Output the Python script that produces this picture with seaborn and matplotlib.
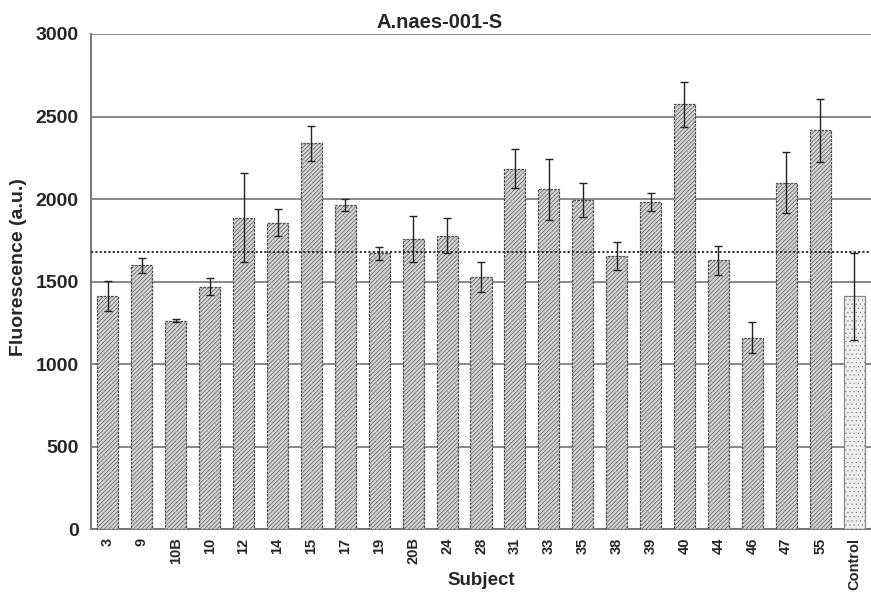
import numpy as np
import pandas as pd
import seaborn as sns
import matplotlib.pyplot as plt
from matplotlib.ticker import FixedLocator

subjects = ['3', '9', '10B', '10', '12', '14', '15', '17', '19', '20B', '24', '28',
            '31', '33', '35', '38', '39', '40', '44', '46', '47', '55', 'Control']
fluorescence = [1414, 1598, 1263, 1469, 1888, 1858, 2337, 1964, 1672, 1758, 1778, 1530,
                2185, 2058, 1997, 1655, 1982, 2575, 1630, 1160, 2098, 2418, 1412]
errors = [90, 43, 8, 52, 272, 81, 106, 39, 40, 137, 106, 91,
          116, 184, 103, 87, 53, 137, 88, 94, 185, 191, 263]
threshold = 1680

df = pd.DataFrame({'Subject': subjects, 'Fluorescence': fluorescence, 'err': errors})

sns.set_style('white')
plt.rcParams['font.family'] = ['Liberation Sans', 'DejaVu Sans']
plt.rcParams['hatch.linewidth'] = 0.4

fig = plt.figure(figsize=(8.71, 5.96), dpi=100)
ax = fig.add_axes([0.1045, 0.112, 0.8955, 0.831])

sns.barplot(data=df, x='Subject', y='Fluorescence', order=subjects, errorbar=None,
            color='#d2d2d2', width=0.62, edgecolor='#4a4a4a', linewidth=0.9,
            ax=ax, zorder=3)

# pattern fill like the original (control drawn lighter with dots)
for i, bar in enumerate(ax.patches):
    if subjects[i] == 'Control':
        bar.set_facecolor('#eeeeee')
        bar.set_hatch('....')
        bar.set_edgecolor('#888888')
    else:
        bar.set_hatch('////////')
        bar.set_linestyle((0, (2, 1)))

ax.errorbar(np.arange(len(subjects)), df['Fluorescence'], yerr=df['err'],
            fmt='none', ecolor='#222222', elinewidth=1.0, capsize=3, capthick=1.0,
            zorder=4)

ax.axhline(threshold, color='#222222', linestyle=(0, (1.2, 1.2)), linewidth=1.3, zorder=5)

ax.set_ylim(0, 3000)
ax.set_xlim(-0.5, len(subjects) - 0.5)
ax.set_yticks(np.arange(0, 3001, 500))
ax.yaxis.grid(True, color='#888888', linewidth=1.4, zorder=0)
ax.set_axisbelow(True)

ax.xaxis.set_minor_locator(FixedLocator(np.arange(-0.5, len(subjects), 1.0)))
ax.tick_params(axis='x', which='major', length=0, pad=6)
ax.tick_params(axis='x', which='minor', length=5, width=1, color='#555555', direction='out')
ax.tick_params(axis='y', length=5, width=1, color='#555555', direction='out', pad=4)

for lab in ax.get_xticklabels():
    lab.set_rotation(90)
    lab.set_fontweight('bold')
    lab.set_fontsize(10.5)
for lab in ax.get_yticklabels():
    lab.set_fontweight('bold')
    lab.set_fontsize(14)

for s in ['top', 'right']:
    ax.spines[s].set_visible(False)
for s in ['left', 'bottom']:
    ax.spines[s].set_color('#777777')
    ax.spines[s].set_linewidth(1.4)

ax.set_title('A.naes-001-S', fontweight='bold', fontsize=14.5, pad=4, x=0.447)
ax.set_xlabel('Subject', fontweight='bold', fontsize=13.5)
ax.xaxis.set_label_coords(0.5, -0.086)
ax.set_ylabel('Fluorescence (a.u.)', fontweight='bold', fontsize=14)
ax.yaxis.set_label_coords(-0.082, 0.53)

fig.savefig('out.png', dpi=100)
